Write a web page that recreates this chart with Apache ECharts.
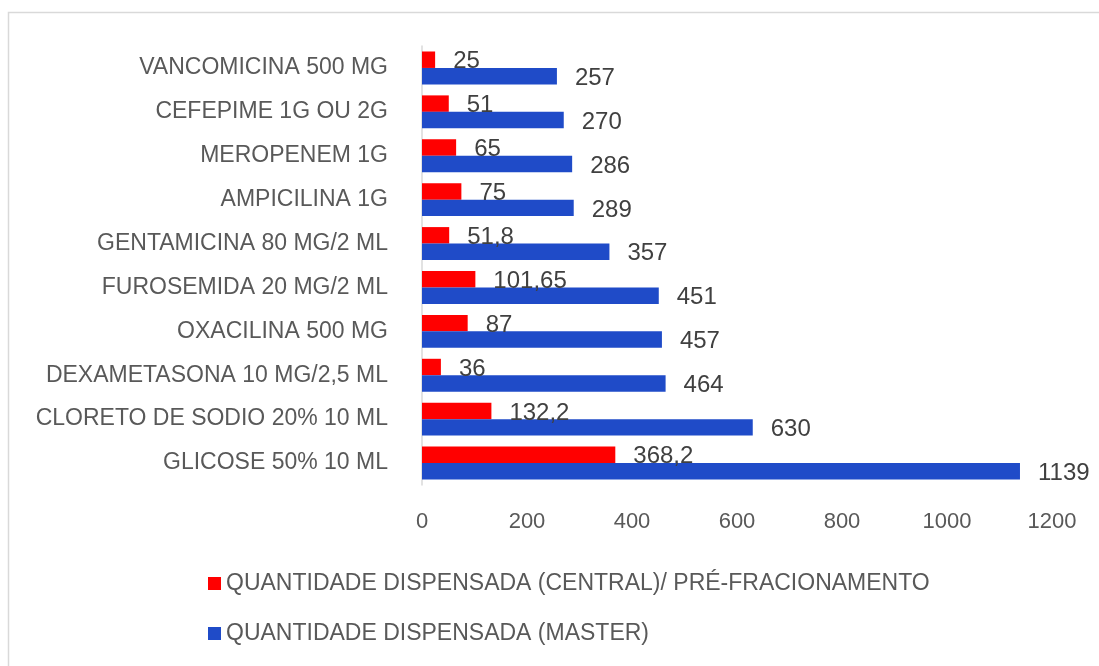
<!DOCTYPE html>
<html>
<head>
<meta charset="utf-8">
<script src="https://cdn.jsdelivr.net/npm/echarts@6/dist/echarts.min.js"></script>
<style>
  html, body { margin: 0; padding: 0; background: #fff; }
  #chart { width: 1099px; height: 666px; }
</style>
</head>
<body>
<div id="chart"></div>
<script>
// categories, top to bottom
const categories = [
  'VANCOMICINA 500 MG',
  'CEFEPIME 1G OU 2G',
  'MEROPENEM 1G',
  'AMPICILINA 1G',
  'GENTAMICINA 80 MG/2 ML',
  'FUROSEMIDA 20 MG/2 ML',
  'OXACILINA 500 MG',
  'DEXAMETASONA 10 MG/2,5 ML',
  'CLORETO DE SODIO 20% 10 ML',
  'GLICOSE 50% 10 ML'
];
const central = [25, 51, 65, 75, 51.8, 101.65, 87, 36, 132.2, 368.2];
const master = [257, 270, 286, 289, 357, 451, 457, 464, 630, 1139];
const seriesNames = [
  'QUANTIDADE DISPENSADA (CENTRAL)/ PRÉ-FRACIONAMENTO',
  'QUANTIDADE DISPENSADA (MASTER)'
];

const font = '"Liberation Sans", Arial, sans-serif';
const fmt = (p) => String(p.value).replace('.', ',');

let myChart = echarts.init(document.getElementById('chart'));

let option = {
    animation: false,
    textStyle: { fontFamily: font },
    graphic: [{
        type: 'rect',
        shape: { x: 8.5, y: 12.5, width: 1100, height: 700 },
        style: { fill: 'none', stroke: '#d9d9d9', lineWidth: 1.5 },
        silent: true
    }],
    grid: { left: 422, top: 46, width: 630, height: 439, containLabel: false },
    legend: {
        orient: 'vertical',
        left: 203,
        top: 567,
        itemGap: 27,
        itemWidth: 13,
        itemHeight: 13,
        icon: 'rect',
        textStyle: { fontSize: 23, color: '#595959', fontFamily: font }
    },
    xAxis: {
        type: 'value',
        min: 0,
        max: 1200,
        interval: 200,
        axisLine: { show: false },
        axisTick: { show: false },
        splitLine: { show: false },
        axisLabel: {
            fontSize: 22, color: '#595959', margin: 26, fontFamily: font,
            formatter: (v) => String(v)
        }
    },
    yAxis: {
        type: 'category',
        inverse: true,
        data: categories,
        axisLine: { show: true, lineStyle: { color: '#d9d9d9', width: 1.5 } },
        axisTick: { show: false },
        axisLabel: { fontSize: 23, color: '#595959', margin: 34, fontFamily: font }
    },
    series: [
        {
            name: seriesNames[0],
            type: 'bar',
            data: central,
            barGap: '0%',
            barCategoryGap: '25%',
            itemStyle: { color: '#ff0000' },
            label: {
                show: true, position: 'right', distance: 18, offset: [0, 2],
                fontSize: 24, color: '#404040', fontFamily: font,
                formatter: fmt
            }
        },
        {
            name: seriesNames[1],
            type: 'bar',
            data: master,
            barGap: '0%',
            barCategoryGap: '25%',
            itemStyle: { color: '#1f4bc8' },
            label: {
                show: true, position: 'right', distance: 18, offset: [0, 2],
                fontSize: 24, color: '#404040', fontFamily: font,
                formatter: fmt
            }
        }
    ]
};

myChart.setOption(option);
</script>
</body>
</html>
